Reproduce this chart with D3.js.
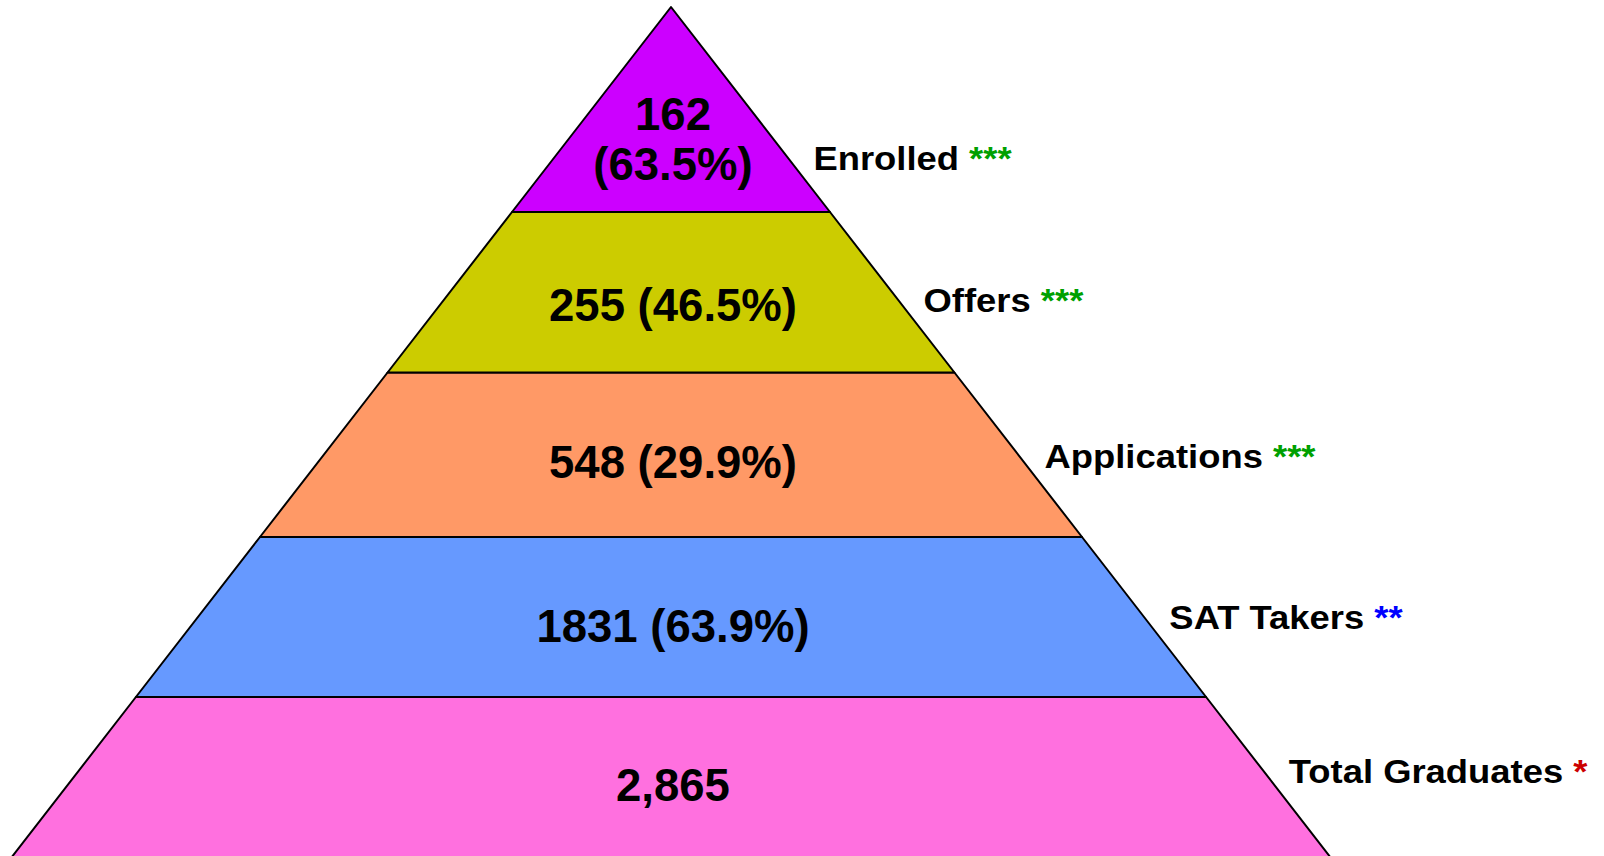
<!DOCTYPE html>
<html>
<head>
<meta charset="utf-8">
<script src="https://cdn.jsdelivr.net/npm/d3@7"></script>
<style>
  html, body { margin: 0; padding: 0; background: #fff; }
  svg { display: block; }
</style>
</head>
<body>
<svg id="chart" width="1604" height="856"></svg>
<script>
// funnel data, bottom layer first
var stages = ['Total Graduates', 'SAT Takers', 'Applications', 'Offers', 'Enrolled'];
var counts = [2865, 1831, 548, 255, 162];
var rates = [null, 63.9, 29.9, 46.5, 63.5];
var stars = ['*', '**', '***', '***', '***'];
var starColors = ['#cc0000', '#0000ff', '#00a000', '#00a000', '#00a000'];
var fills = ['#ff70df', '#6699ff', '#ff9966', '#cccc00', '#cc00ff'];

var svg = d3.select('#chart');

// layer boundaries (index 0 = base, 5 = apex)
var y = d3.scaleLinear()
  .domain([0, 1, 2, 3, 4, 5])
  .range([858, 697, 537, 372.5, 212, 7]);

var apexX = 671, apexY = y(5), slope = 0.7755;
function halfW(yy) { return (yy - apexY) * slope; }

var fmt = d3.format(',');

var layers = stages.map(function(s, i) {
  return { name: s, count: counts[i], rate: rates[i], star: stars[i],
           starColor: starColors[i], fill: fills[i], i: i };
});

var g = svg.append('g');

g.selectAll('path.layer')
  .data(layers)
  .join('path')
  .attr('class', 'layer')
  .attr('fill', function(d) { return d.fill; })
  .attr('stroke', '#000')
  .attr('stroke-width', 2)
  .attr('stroke-linejoin', 'round')
  .attr('d', function(d) {
    var yb = y(d.i), yt = y(d.i + 1);
    var pts = [[apexX - halfW(yb), yb], [apexX + halfW(yb), yb],
               [apexX + halfW(yt), yt], [apexX - halfW(yt), yt]];
    return d3.line()(pts) + 'Z';
  });

// values inside the layers
var valFont = '"Liberation Sans", Arial, sans-serif';
var valShift = [23, 25, 23, 29];
layers.forEach(function(d) {
  var mid = (y(d.i) + y(d.i + 1)) / 2;
  var txt = g.append('text')
    .attr('x', apexX + 2)
    .attr('text-anchor', 'middle')
    .style('font-family', valFont)
    .style('font-weight', 'bold')
    .style('font-size', '45.5px')
    .attr('fill', '#000');
  var num = d.i === 0 ? fmt(d.count) : String(d.count);
  if (d.rate == null) {
    txt.attr('y', mid + valShift[d.i]).text(num);
  } else if (d.i === stages.length - 1) {
    txt.attr('y', 130).text(num);
    g.append('text')
      .attr('x', apexX + 2).attr('y', 180)
      .attr('text-anchor', 'middle')
      .style('font-family', valFont)
      .style('font-weight', 'bold')
      .style('font-size', '45.5px')
      .text('(' + d.rate + '%)');
  } else {
    txt.attr('y', mid + valShift[d.i]).text(num + ' (' + d.rate + '%)');
  }
});

// side labels, baseline per layer
var labelBase = [783, 629, 468, 312, 170];
layers.forEach(function(d) {
  var by = labelBase[d.i];
  var lx = apexX + halfW(by) + 16;
  var t = g.append('text')
    .attr('transform', 'translate(' + lx + ',' + by + ') scale(1.12,1)')
    .style('font-family', valFont)
    .style('font-weight', 'bold')
    .style('font-size', '32.5px')
    .attr('fill', '#000');
  t.append('tspan').text(d.name + ' ');
  t.append('tspan').attr('fill', d.starColor).text(d.star);
});
</script>
</body>
</html>
